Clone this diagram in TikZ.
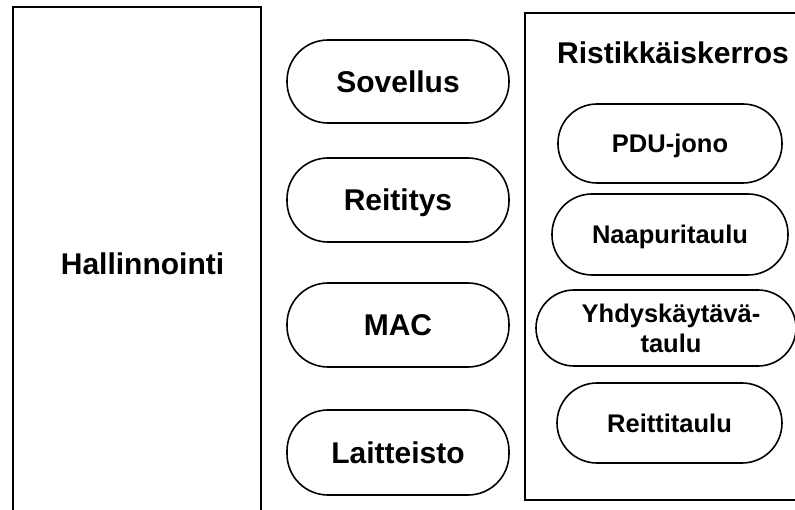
\documentclass[tikz,border=0pt]{standalone}
\usepackage{fontspec}
\setmainfont{Liberation Sans}
\begin{document}
\begin{tikzpicture}[x=1pt,y=-1pt,
  frame/.style={draw=black,line width=1.8pt},
  bigtxt/.style={font=\bfseries\fontsize{30}{36}\selectfont,text height=21.5pt,text depth=0pt},
  smalltxt/.style={font=\bfseries\fontsize{25.5}{30}\selectfont,text height=18.3pt,text depth=0pt},
  multitxt/.style={font=\bfseries\fontsize{25.5}{30}\selectfont},
  pill/.style={draw=black,line width=1.6pt,rounded corners=#1,inner sep=0pt}
]
\useasboundingbox (0,0) rectangle (795,510);
\fill[white] (0,0) rectangle (795,510);
% left box (open at the bottom)
\coordinate (lbl) at (13,520);
\coordinate (lbr) at (261,520);
\draw[frame] (lbl) |- (137,7) coordinate (ltop) -| (lbr);
\node[bigtxt] (hall) at (142.5,263.5) {Hallinnointi};
% right box
\draw[frame] (805,13) coordinate (rtr) -| (525,500) coordinate (rbl) -- (805,500);
\node[bigtxt] (rist) at (673,53) {Ristikkäiskerros};
% middle stack
\node[pill=41pt,bigtxt,minimum width=222pt,minimum height=83pt] (sov) at (398,81.5) {Sovellus};
\node[pill=41pt,bigtxt,minimum width=222pt,minimum height=84pt] (reit) at (398,200) {Reititys};
\node[pill=41pt,bigtxt,minimum width=222pt,minimum height=84pt] (mac) at (398,325) {MAC};
\node[pill=41pt,bigtxt,minimum width=222pt,minimum height=85pt] (lait) at (398,452.5) {Laitteisto};
% right stack
\node[pill=39pt,smalltxt,minimum width=224pt,minimum height=79pt] (pdu) at (670,143.5) {PDU-jono};
\node[pill=40pt,smalltxt,minimum width=236pt,minimum height=81pt] (naap) at (670,234.5) {Naapuritaulu};
\node[pill=38pt,minimum width=260pt,minimum height=76pt] (yhd) at (666,328) {};
\node[multitxt,align=center,inner sep=0pt] (yhdt) at (671,328) {Yhdyskäytävä-\\taulu};
\node[pill=40pt,smalltxt,minimum width=225pt,minimum height=80pt] (rtt) at (669.5,423) {Reittitaulu};
\end{tikzpicture}
\end{document}
